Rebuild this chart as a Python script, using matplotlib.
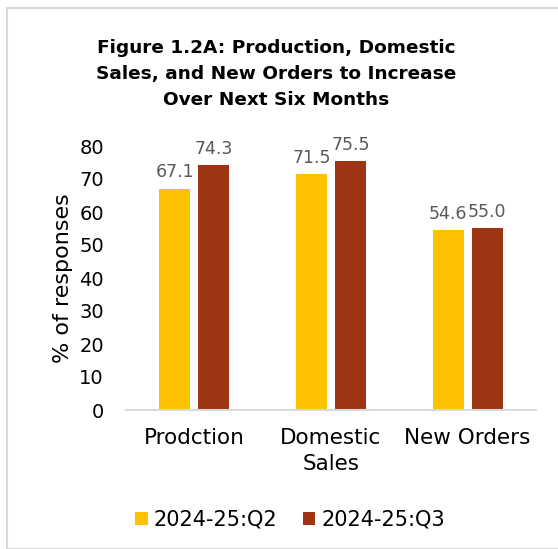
import numpy as np
import matplotlib.pyplot as plt
from matplotlib.patches import Rectangle

categories = ["Prodction", "Domestic\nSales", "New Orders"]
series_names = ["2024-25:Q2", "2024-25:Q3"]
q2_values = [67.1, 71.5, 54.6]
q3_values = [74.3, 75.5, 55.0]
colors = ["#FFC000", "#9E3412"]

plt.rcParams['font.family'] = ['DejaVu Sans']

W, H = 558, 549
fig = plt.figure(figsize=(W / 100, H / 100), dpi=100)

# chart area border (Excel style)
fig.patches.append(Rectangle((7 / W, 0), 1, 1 - 8 / H, transform=fig.transFigure,
                             fill=False, edgecolor="#D9D9D9", lw=1.5))

ax = fig.add_axes([126 / W, 1 - 410 / H, 410 / W, (410 - 146) / H])

x = np.arange(len(categories))
width = 0.227
gap = 0.058
off = (width + gap) / 2
for vals, name, col, sign in [(q2_values, series_names[0], colors[0], -1),
                              (q3_values, series_names[1], colors[1], 1)]:
    bars = ax.bar(x + sign * off, vals, width, color=col, label=name)
    for b, v in zip(bars, vals):
        ax.text(b.get_x() + b.get_width() / 2, v + 2.2, f"{v:.1f}",
                ha="center", va="bottom", fontsize=12.5, color="#595959")

ax.set_xlim(-0.5, 2.5)
ax.set_ylim(0, 80)
ax.set_yticks(range(0, 81, 10))
ax.set_xticks(x)
ax.set_xticklabels(categories, fontsize=15.5, linespacing=1.35)
ax.tick_params(axis='y', labelsize=14, length=0, pad=16)
ax.tick_params(axis='x', length=0, pad=13)
for s in ["top", "right", "left"]:
    ax.spines[s].set_visible(False)
ax.spines["bottom"].set_color("#D9D9D9")
ax.spines["bottom"].set_linewidth(1.5)
ax.set_ylabel("% of responses", fontsize=16, labelpad=4)

fig.text(276.5 / W, 1 - 74 / H,
         "Figure 1.2A: Production, Domestic\nSales, and New Orders to Increase\nOver Next Six Months",
         ha="center", va="center", fontsize=13.3, fontweight="bold", linespacing=1.55)

fig.legend(loc="center", bbox_to_anchor=(0.5 + 11 / W, 1 - 520 / H), ncol=2, frameon=False,
           fontsize=15, handlelength=0.6, handleheight=0.6, handletextpad=0.3,
           columnspacing=1.2)

fig.savefig("out.png", dpi=100)
